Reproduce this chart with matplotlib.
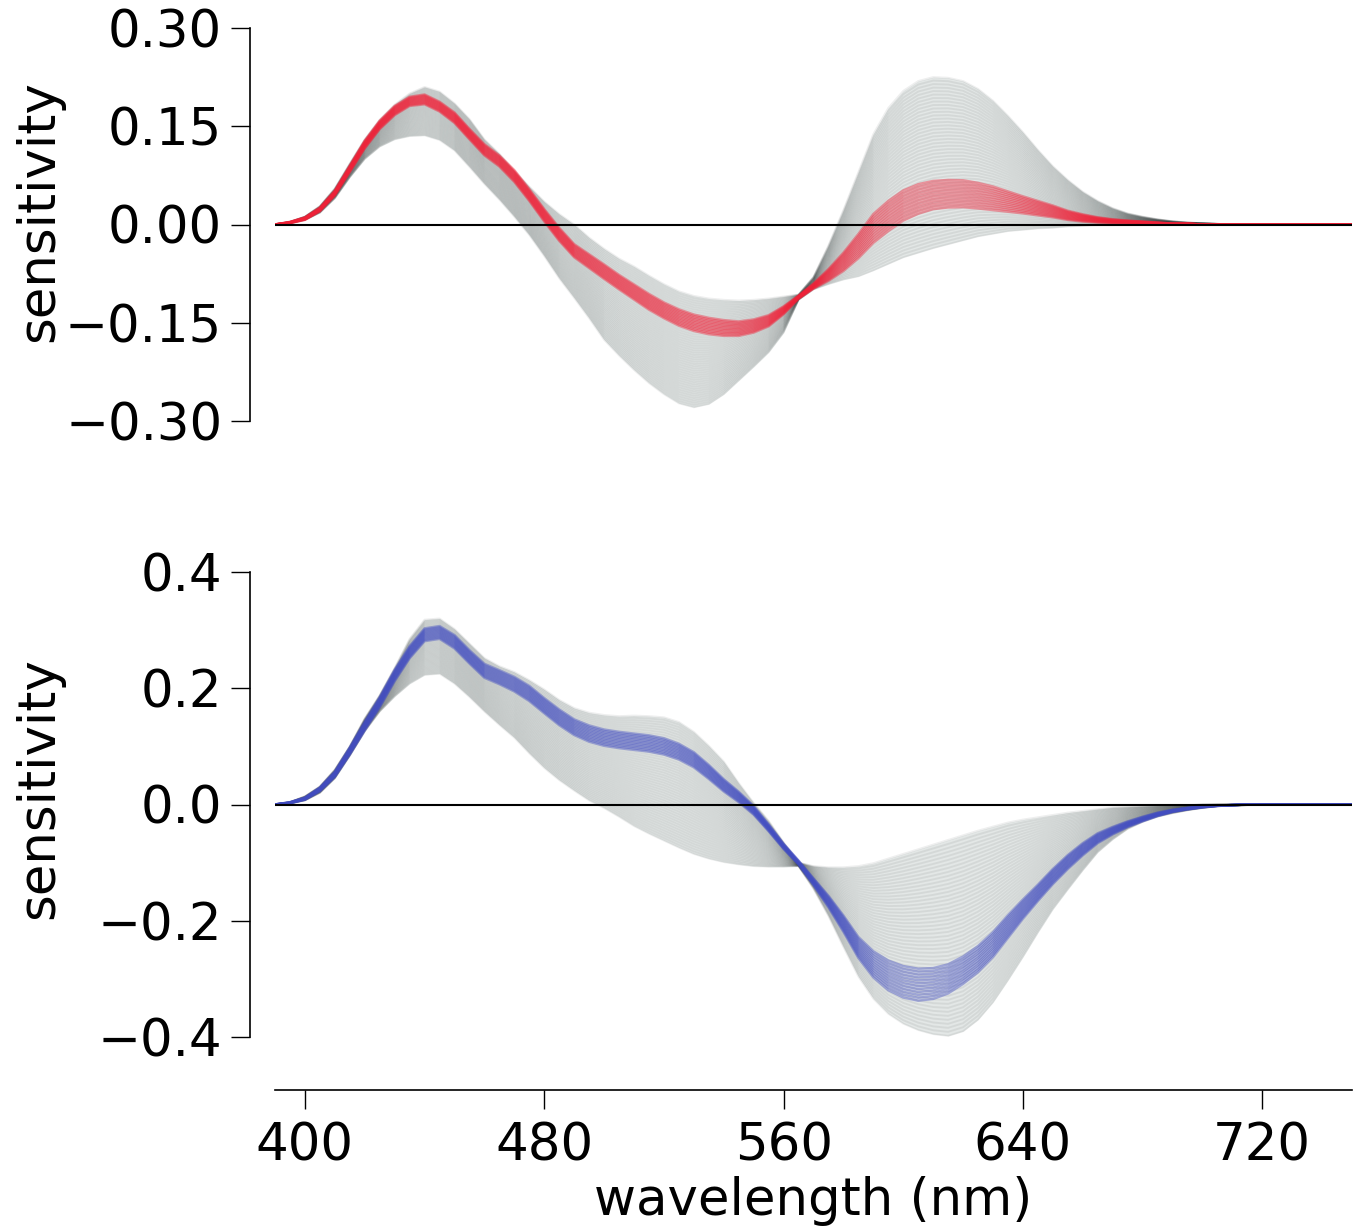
import numpy as np
import matplotlib
matplotlib.use("Agg")
import matplotlib.pyplot as plt

plt.rcParams['font.family'] = ['DejaVu Sans']

# wavelength grid (nm)
wavelength = list(range(390, 721, 5)) + [750]

# ---------------- top panel ----------------
top_upper = [0.000, 0.004, 0.012, 0.028, 0.055, 0.093, 0.130, 0.160, 0.183, 0.200,
             0.210, 0.203, 0.185, 0.161, 0.130, 0.108, 0.082, 0.058, 0.035, 0.016,
             0.000, -0.020, -0.037, -0.052, -0.064, -0.078, -0.091, -0.102, -0.109, -0.113,
             -0.115, -0.116, -0.115, -0.113, -0.110, -0.107, -0.080, -0.032, 0.022, 0.080,
             0.138, 0.178, 0.204, 0.219, 0.225, 0.224, 0.219, 0.207, 0.189, 0.166,
             0.141, 0.114, 0.089, 0.068, 0.050, 0.036, 0.025, 0.017, 0.012, 0.008,
             0.005, 0.003, 0.002, 0.001, 0.000, 0.000, 0.000,
             0.000]
top_lower = [0.000, 0.002, 0.007, 0.018, 0.040, 0.072, 0.100, 0.119, 0.130, 0.135,
             0.136, 0.129, 0.113, 0.088, 0.062, 0.038, 0.012, -0.016, -0.048, -0.082,
             -0.112, -0.143, -0.176, -0.200, -0.222, -0.242, -0.259, -0.273, -0.279, -0.274,
             -0.259, -0.238, -0.217, -0.195, -0.165, -0.115, -0.099, -0.091, -0.084, -0.079,
             -0.070, -0.060, -0.050, -0.043, -0.036, -0.030, -0.024, -0.018, -0.014, -0.010,
             -0.008, -0.006, -0.005, -0.003, -0.002, -0.001, -0.001, 0.000, 0.000, 0.000,
             0.000, 0.000, 0.000, 0.000, 0.000, 0.000, 0.000,
             0.000]
top_red_center = [0.000, 0.003, 0.009, 0.023, 0.048, 0.085, 0.122, 0.152, 0.174, 0.188,
                  0.191, 0.180, 0.163, 0.138, 0.114, 0.097, 0.074, 0.045, 0.014, -0.015,
                  -0.040, -0.056, -0.072, -0.088, -0.103, -0.118, -0.131, -0.142, -0.150, -0.155,
                  -0.158, -0.159, -0.155, -0.147, -0.131, -0.111, -0.094, -0.077, -0.057, -0.033,
                  -0.006, 0.013, 0.029, 0.039, 0.045, 0.047, 0.047, 0.044, 0.040, 0.035,
                  0.030, 0.025, 0.020, 0.014, 0.010, 0.007, 0.005, 0.004, 0.003, 0.002,
                  0.001, 0.001, 0.000, 0.000, 0.000, 0.000, 0.000,
                  0.000]
top_red_width = [0.000, 0.002, 0.004, 0.006, 0.008, 0.010, 0.012, 0.013, 0.014, 0.014,
                 0.015, 0.015, 0.016, 0.016, 0.017, 0.017, 0.018, 0.018, 0.019, 0.020,
                 0.020, 0.021, 0.022, 0.022, 0.023, 0.024, 0.024, 0.025, 0.025, 0.025,
                 0.024, 0.022, 0.020, 0.017, 0.012, 0.005, 0.008, 0.018, 0.028, 0.037,
                 0.044, 0.046, 0.046, 0.045, 0.043, 0.042, 0.041, 0.039, 0.036, 0.031,
                 0.026, 0.022, 0.018, 0.014, 0.011, 0.008, 0.006, 0.004, 0.003, 0.002,
                 0.001, 0.000, 0.000, 0.000, 0.000, 0.000, 0.000,
                 0.000]

# ---------------- bottom panel ----------------
bot_upper = [0.000, 0.004, 0.014, 0.031, 0.060, 0.100, 0.148, 0.188, 0.235, 0.285,
             0.318, 0.320, 0.302, 0.277, 0.252, 0.238, 0.228, 0.214, 0.198, 0.180,
             0.166, 0.158, 0.154, 0.152, 0.153, 0.152, 0.150, 0.142, 0.125, 0.101,
             0.074, 0.037, 0.003, -0.028, -0.065, -0.100, -0.106, -0.108, -0.108, -0.106,
             -0.101, -0.093, -0.085, -0.077, -0.069, -0.061, -0.053, -0.045, -0.038, -0.031,
             -0.026, -0.022, -0.018, -0.014, -0.011, -0.008, -0.005, -0.004, -0.003, -0.002,
             -0.001, -0.001, 0.000, 0.000, 0.000, 0.000, 0.000,
             0.000]
bot_lower = [0.000, 0.002, 0.007, 0.020, 0.045, 0.084, 0.126, 0.160, 0.186, 0.208,
             0.223, 0.225, 0.208, 0.185, 0.160, 0.137, 0.115, 0.088, 0.063, 0.042,
             0.024, 0.007, -0.006, -0.021, -0.037, -0.050, -0.062, -0.074, -0.085, -0.093,
             -0.099, -0.103, -0.106, -0.107, -0.107, -0.106, -0.145, -0.192, -0.245, -0.296,
             -0.334, -0.360, -0.377, -0.388, -0.395, -0.398, -0.390, -0.370, -0.340, -0.302,
             -0.262, -0.220, -0.180, -0.146, -0.113, -0.082, -0.060, -0.042, -0.030, -0.021,
             -0.015, -0.010, -0.006, -0.003, -0.002, -0.001, 0.000,
             0.000]
bot_blue_center = [0.000, 0.003, 0.010, 0.026, 0.052, 0.092, 0.135, 0.176, 0.222, 0.262,
                   0.292, 0.296, 0.280, 0.254, 0.230, 0.219, 0.207, 0.191, 0.170, 0.150,
                   0.133, 0.122, 0.115, 0.111, 0.108, 0.105, 0.100, 0.091, 0.077, 0.056,
                   0.033, 0.013, -0.010, -0.040, -0.072, -0.100, -0.133, -0.167, -0.205, -0.246,
                   -0.275, -0.294, -0.305, -0.310, -0.308, -0.300, -0.285, -0.266, -0.241, -0.210,
                   -0.180, -0.152, -0.124, -0.099, -0.077, -0.058, -0.045, -0.034, -0.025, -0.017,
                   -0.011, -0.007, -0.004, -0.002, -0.001, 0.000, 0.000,
                   0.000]
bot_blue_width = [0.000, 0.002, 0.004, 0.007, 0.010, 0.013, 0.016, 0.018, 0.020, 0.021,
                  0.022, 0.022, 0.023, 0.023, 0.024, 0.024, 0.025, 0.026, 0.026, 0.027,
                  0.027, 0.028, 0.028, 0.028, 0.028, 0.028, 0.028, 0.027, 0.026, 0.024,
                  0.021, 0.018, 0.015, 0.012, 0.009, 0.007, 0.012, 0.020, 0.028, 0.036,
                  0.045, 0.051, 0.054, 0.055, 0.053, 0.050, 0.047, 0.045, 0.043, 0.039,
                  0.033, 0.028, 0.026, 0.024, 0.021, 0.017, 0.013, 0.010, 0.008, 0.006,
                  0.004, 0.003, 0.002, 0.001, 0.000, 0.000, 0.000,
                  0.000]

top_yticks = [-0.30, -0.15, 0.00, 0.15, 0.30]
top_ticklabels = ["\u22120.30", "\u22120.15", "0.00", "0.15", "0.30"]
bot_yticks = [-0.4, -0.2, 0.0, 0.2, 0.4]
bot_ticklabels = ["\u22120.4", "\u22120.2", "0.0", "0.2", "0.4"]
x_ticks = [400, 480, 560, 640, 720]

N_GREY = 50
N_BAND = 12
GREY = (0.13, 0.16, 0.16)
FILL = '#e3e7e6'
RED = (0.95, 0.13, 0.22)
BLUE = (0.26, 0.30, 0.76)

W, H = 1362, 1228
fig = plt.figure(figsize=(W / 100, H / 100), dpi=100)
ax1 = fig.add_axes([275 / W, 1 - 421 / H, (1352 - 275) / W, (421 - 28) / H])
ax2 = fig.add_axes([275 / W, 1 - 1037 / H, (1352 - 275) / W, (1037 - 572) / H])

x = np.array(wavelength, dtype=float)


def draw_family(ax, upper, lower, center, width, band_color):
    up = np.array(upper)
    lo = np.array(lower)
    ax.fill_between(x, up, lo, color=FILL, lw=0, zorder=0.5)
    for t in np.linspace(0, 1, N_GREY):
        ax.plot(x, up + t * (lo - up), color=GREY, alpha=0.075, lw=1.4,
                zorder=1)
    c = np.array(center)
    w = np.array(width)
    for t in np.linspace(-0.5, 0.5, N_BAND):
        ax.plot(x, c + t * w, color=band_color, alpha=0.42, lw=1.8,
                zorder=2)
    ax.axhline(0, color='black', lw=1.5, zorder=5)


draw_family(ax1, top_upper, top_lower, top_red_center, top_red_width, RED)
draw_family(ax2, bot_upper, bot_lower, bot_blue_center, bot_blue_width, BLUE)

FS = 37
for ax in (ax1, ax2):
    ax.set_xlim(390, 750)
    ax.spines['top'].set_visible(False)
    ax.spines['right'].set_visible(False)
    ax.spines['left'].set_position(('outward', 18))
    ax.spines['left'].set_linewidth(1.2)
    ax.spines['bottom'].set_linewidth(1.2)
    ax.tick_params(axis='both', direction='out', length=14, width=1.0,
                   labelsize=FS, pad=6)
    ax.set_ylabel('sensitivity', fontsize=FS)

ax1.set_ylim(-0.30, 0.30)
ax1.set_yticks(top_yticks)
ax1.set_yticklabels(top_ticklabels)
ax1.spines['bottom'].set_visible(False)
ax1.tick_params(axis='x', bottom=False, labelbottom=False)
ax1.yaxis.set_label_coords(-0.196, 0.535)

ax2.set_ylim(-0.4, 0.4)
ax2.set_yticks(bot_yticks)
ax2.set_yticklabels(bot_ticklabels)
ax2.spines['bottom'].set_position(('outward', 38))
ax2.set_xticks(x_ticks)
ax2.tick_params(axis='x', pad=9)
ax2.yaxis.set_label_coords(-0.196, 0.535)
ax2.set_xlabel('wavelength (nm)', fontsize=FS, labelpad=3)

fig.savefig('out.png', dpi=100)
